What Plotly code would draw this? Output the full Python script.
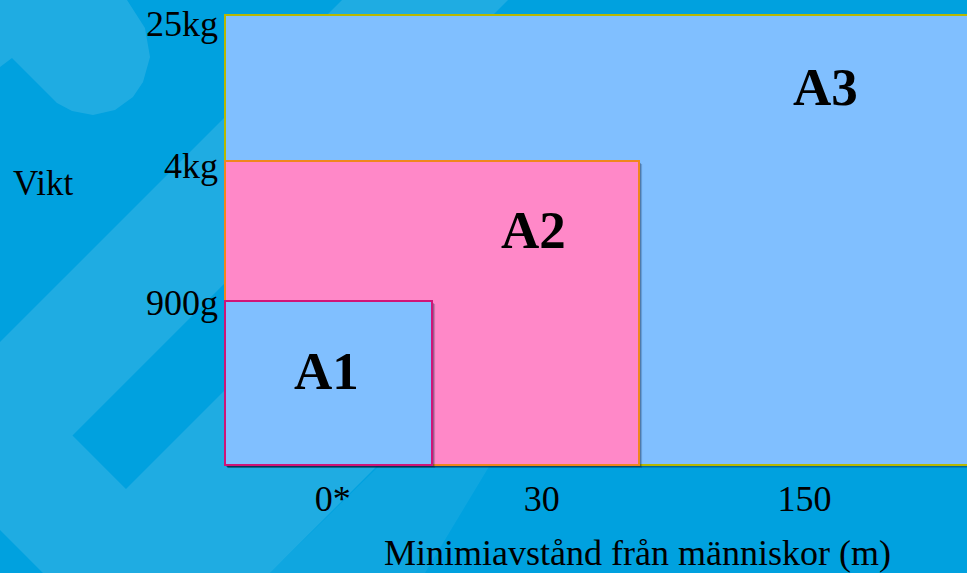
import plotly.graph_objects as go

W, H = 967, 573
ML, MR, MT, MB = 222, 0, 12, 105

# zones, drawn back to front
zones = ["A3", "A2", "A1"]
zone_dist = [3.7, 2.0, 1.0]          # right edge (distance slots)
zone_weight = [4.5, 3.04, 1.64]      # top edge (weight scale)
zone_fill = ["#80bfff", "#ff88c8", "#80bfff"]
zone_line = ["#b8b800", "#f0861c", "#d01478"]
label_x = [2.9, 1.49, 0.49]
label_y = [3.73, 2.3, 0.89]

dist_ticks = [0.52, 1.53, 2.8]
dist_labels = ["0*", "30", "150"]
weight_ticks = [4.42, 3.0, 1.63]
weight_labels = ["25kg", "4kg", "900g"]

FONT = "Liberation Serif"
BG = "#00a1df"


def px(x):
    return (x - ML) / (W - ML - MR)


def py(y):
    return (H - MB - y) / (H - MT - MB)


def path(points):
    return "M " + " L ".join(f"{px(x):.4f},{py(y):.4f}" for x, y in points) + " Z"


fig = go.Figure()

fig.add_trace(go.Scatter(
    x=label_x, y=label_y, text=zones, mode="text",
    textfont=dict(family=FONT, size=53, color="black", weight="bold"),
    hoverinfo="skip", cliponaxis=False,
))

shapes = []
# background decoration
light = "rgba(255,255,255,0.12)"
for pts, col in [
    ([(0, 0), (127, 0), (145, 28), (150, 57), (143, 82), (133, 97), (115, 110),
      (93, 115), (72, 111), (57, 103), (12, 58), (0, 67)], light),
    ([(0, 342), (342, 0), (508, 0), (72.5, 435.5), (126, 489), (415, 200),
      (643, 200), (270, 573), (43, 573), (0, 530)], light),
    ([(380, 465), (490, 465), (425, 573), (270, 573)], "rgba(255,255,255,0.06)"),
]:
    shapes.append(dict(type="path", xref="paper", yref="paper", path=path(pts),
                       fillcolor=col, line=dict(width=0), layer="below"))

# zone rectangles with a soft drop shadow
for d, w, fc, lc in zip(zone_dist, zone_weight, zone_fill, zone_line):
    for k, a in [(3, 0.18), (2, 0.25), (1, 0.3)]:
        shapes.append(dict(type="rect", xref="x", yref="y",
                           x0=0.004 * k, x1=d + 0.005 * k,
                           y0=-0.01 * k, y1=w - 0.01 * k,
                           fillcolor=f"rgba(0,20,50,{a})",
                           line=dict(width=0), layer="below"))
    shapes.append(dict(type="rect", xref="x", yref="y", x0=0, x1=d, y0=0, y1=w,
                       fillcolor=fc, line=dict(color=lc, width=2), layer="below"))

fig.update_layout(
    width=W, height=H,
    margin=dict(l=ML, r=MR, t=MT, b=MB),
    paper_bgcolor=BG, plot_bgcolor="rgba(0,0,0,0)",
    showlegend=False,
    shapes=shapes,
    xaxis=dict(
        range=[-3 / 207, 742 / 207], showgrid=False, zeroline=False,
        showline=False, tickvals=dist_ticks, ticktext=dist_labels,
        ticks="", ticklabelstandoff=6,
        tickfont=dict(family=FONT, size=36, color="black"),
    ),
    yaxis=dict(
        range=[-0.03, 4.53], showgrid=False, zeroline=False,
        showline=False, tickvals=weight_ticks, ticktext=weight_labels,
        ticks="", ticklabelstandoff=3,
        tickfont=dict(family=FONT, size=36, color="black"),
    ),
    annotations=[
        dict(text="Vikt", xref="paper", yref="paper", x=px(11), y=py(183),
             xanchor="left", yanchor="middle", showarrow=False,
             font=dict(family=FONT, size=35, color="black")),
        dict(text="Minimiavstånd från människor (m)", xref="paper", yref="paper",
             x=px(637.5), y=py(553), xanchor="center", yanchor="middle",
             showarrow=False, font=dict(family=FONT, size=36, color="black")),
    ],
)

fig.write_html("out.html", config={"displayModeBar": False},
               post_script="document.body.style.margin='0';")
